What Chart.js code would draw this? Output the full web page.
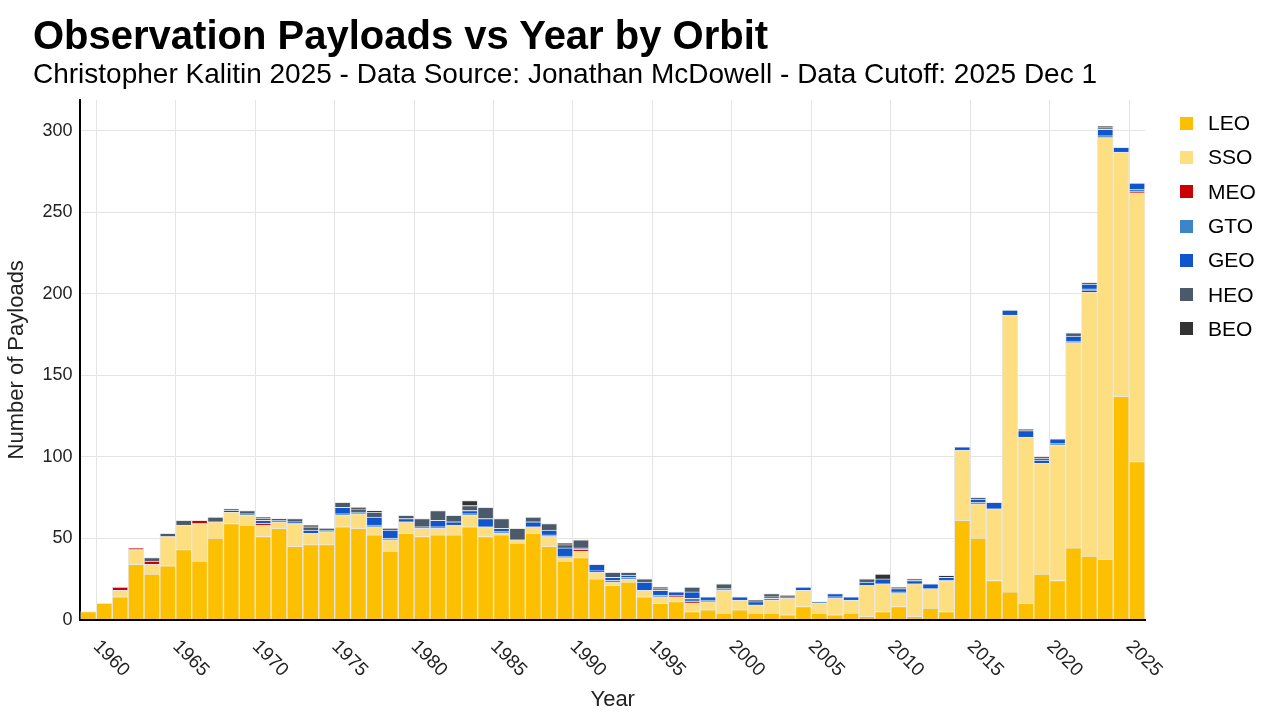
<!DOCTYPE html>
<html>
<head>
<meta charset="utf-8">
<script src="https://cdn.jsdelivr.net/npm/chart.js@4"></script>
<style>
  body { margin: 0; background: #fff; font-family: Arial, "Liberation Sans", sans-serif; }
  #chart-box { position: relative; width: 1280px; height: 720px; }
  #chart-title { position: absolute; left: 33px; top: 13px; font-size: 40px; font-weight: bold; color: #000; }
  #chart-subtitle { position: absolute; left: 33px; top: 58px; font-size: 28px; color: #000; }
  #chart-legend { position: absolute; left: 1180px; top: 106px; }
  .legend-item { display: flex; align-items: center; height: 34.3px; font-size: 21px; color: #000; }
  .legend-box { width: 13px; height: 13px; margin-right: 15px; }
</style>
</head>
<body>
<div id="chart-box">
  <canvas id="orbit-chart" width="1280" height="720"></canvas>
  <div id="chart-title">Observation Payloads vs Year by Orbit</div>
  <div id="chart-subtitle">Christopher Kalitin 2025 - Data Source: Jonathan McDowell - Data Cutoff: 2025 Dec 1</div>
  <div id="chart-legend"></div>
</div>
<script>
document.addEventListener('DOMContentLoaded', () => {
    const canvas = document.getElementById('orbit-chart');
    const legendBox = document.getElementById('chart-legend');

    // years 1959 -> 2025
    const years = [];
    for (let y = 1959; y <= 2025; y++) years.push(y);

    // per year: [LEO, SSO, MEO, GTO, GEO, HEO, BEO]
    const counts = [
        [5,0,0,0,0,0,0],[10,0,0,0,0,0,0],[14,4,2,0,0,0,0],[34,9,1,0,0,0,0],
        [28,6,2,0,0,2,0],[33,18,0,0,0,2,0],[43,15,0,0,0,3,0],[36,23,2,0,0,0,0],
        [50,10,0,0,0,3,0],[59,7,1,0,1,0,0],[58,6,0,1,0,2,0],[51,7,1,0,2,1,1],
        [56,4,0,0,1,1,0],[45,14,0,0,1,2,0],[46,7,0,0,2,2,1],[46,8,0,1,0,1,0],
        [57,7,0,1,4,3,0],[56,9,0,1,0,2,1],[52,5,0,1,5,3,1],[42,7,0,1,5,1,0],
        [53,7,0,0,2,2,0],[51,5,0,1,0,5,0],[52,4,0,1,4,6,0],[52,6,0,0,2,4,0],
        [57,7,0,1,2,3,3],[51,6,0,0,5,7,0],[52,1,0,1,2,6,0],[47,2,0,0,0,7,0],
        [53,4,0,0,3,3,0],[45,6,0,1,3,4,0],[36,2,0,1,5,2,1],[38,4,1,1,0,5,0],
        [25,4,1,0,4,0,0],[21,2,0,1,2,3,0],[23,2,0,1,1,2,0],[14,4,0,0,5,2,0],
        [10,4,0,1,3,1,1],[11,3,1,0,2,0,0],[5,5,1,2,4,3,0],[6,5,0,1,2,0,0],
        [4,14,0,1,0,3,0],[6,6,0,0,2,0,0],[4,5,0,0,2,0,1],[4,8,0,1,1,2,0],
        [3,10,0,1,0,0,1],[8,10,0,0,2,0,0],[4,6,0,1,0,0,0],[3,10,0,1,2,0,0],
        [4,8,0,0,2,0,0],[2,19,0,0,2,2,0],[5,17,0,0,3,0,3],[8,8,0,1,2,1,0],
        [2,20,0,0,2,1,0],[7,12,0,0,3,0,0],[5,19,0,0,2,0,1],[61,43,0,0,2,0,0],
        [50,21,0,1,2,1,0],[24,44,0,0,4,0,0],[17,170,0,0,3,0,0],[10,102,0,0,4,1,0],
        [28,68,0,0,2,1,1],[24,83,0,1,3,0,0],[44,126,0,1,3,2,0],[39,162,1,1,3,1,0],
        [37,259,0,1,4,1,1],[137,150,0,0,3,0,0],[97,165,1,1,4,0,0]
    ];

    const orbits = ['LEO', 'SSO', 'MEO', 'GTO', 'GEO', 'HEO', 'BEO'];
    const colors = ['#fdc000', '#fdde80', '#cc0000', '#3d85c6', '#1155cc', '#4b5a6b', '#333333'];

    const datasets = orbits.map((name, i) => ({
        label: name,
        data: counts.map(row => row[i]),
        backgroundColor: colors[i],
        borderColor: 'rgba(230,230,230,0.9)',
        borderWidth: 1,
        barPercentage: 1,
        categoryPercentage: 1
    }));

    // legend (html)
    legendBox.innerHTML = orbits.map((name, i) =>
        `<div class="legend-item"><span class="legend-box" style="background:${colors[i]}"></span>${name}</div>`
    ).join('');

    // year labels rotated down-right, like the reference
    const slantedYears = {
        id: 'slantedYears',
        afterDraw(chart) {
            const ctx = chart.ctx;
            const xScale = chart.scales.x;
            ctx.save();
            ctx.font = '19px Arial, "Liberation Sans", sans-serif';
            ctx.fillStyle = '#222';
            ctx.textAlign = 'left';
            ctx.textBaseline = 'middle';
            years.forEach((year, idx) => {
                if (year % 5 !== 0) return;
                const px = xScale.getPixelForValue(idx);
                ctx.save();
                ctx.translate(px - 8, xScale.top + 24);
                ctx.rotate(Math.PI / 4);
                ctx.fillText(String(year), 0, 0);
                ctx.restore();
            });
            ctx.restore();
        }
    };

    new Chart(canvas, {
        type: 'bar',
        data: { labels: years, datasets: datasets },
        plugins: [slantedYears],
        options: {
            responsive: false,
            animation: false,
            layout: { padding: { left: 0, right: 135, top: 100, bottom: 7 } },
            plugins: {
                legend: { display: false },
                tooltip: { enabled: false }
            },
            scales: {
                x: {
                    stacked: true,
                    offset: true,
                    border: { color: '#000', width: 2 },
                    grid: {
                        color: ctx => (ctx.tick && years[ctx.index] % 5 === 0) ? '#e4e4e4' : 'rgba(0,0,0,0)',
                        drawTicks: false
                    },
                    ticks: { display: false },
                    title: {
                        display: true,
                        text: 'Year',
                        color: '#222',
                        padding: { top: 67, bottom: 0 },
                        font: { family: 'Arial, Liberation Sans', size: 22 }
                    }
                },
                y: {
                    stacked: true,
                    min: 0,
                    max: 319,
                    border: { color: '#000', width: 2 },
                    grid: { color: '#e4e4e4', drawTicks: false },
                    afterBuildTicks: axis => {
                        axis.ticks = axis.ticks.filter(t => t.value % 50 === 0);
                    },
                    ticks: {
                        stepSize: 50,
                        padding: 8,
                        color: '#222',
                        font: { family: 'Arial, Liberation Sans', size: 18 }
                    },
                    title: {
                        display: true,
                        text: 'Number of Payloads',
                        color: '#222',
                        font: { family: 'Arial, Liberation Sans', size: 22 }
                    }
                }
            }
        }
    });
});
</script>
</body>
</html>
